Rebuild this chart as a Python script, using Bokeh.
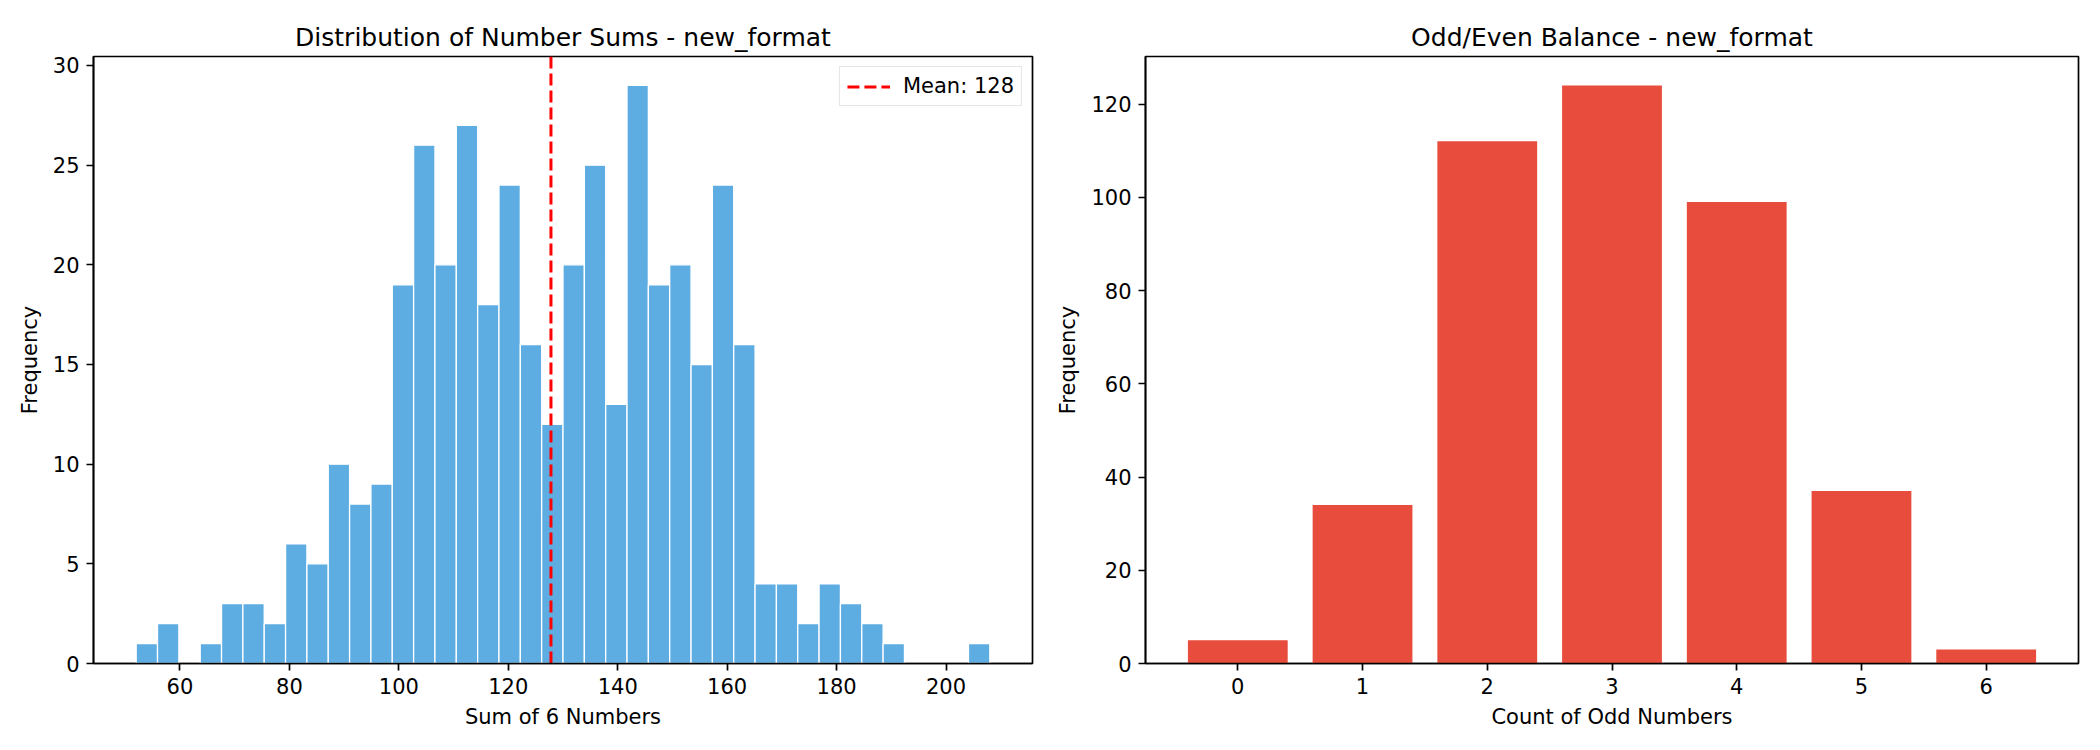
import numpy as np
from bokeh.plotting import figure
from bokeh.layouts import row
from bokeh.models import Range1d, FixedTicker, Legend, LegendItem, ColumnDataSource
from bokeh.embed import file_html
from bokeh.resources import INLINE

# ---------------- data ----------------
sum_bin_start = 52
sum_bin_end = 208
sum_counts = [1, 2, 0, 1, 3, 3, 2, 6, 5, 10, 8, 9, 19, 26, 20, 27, 18, 24, 16,
              12, 20, 25, 13, 29, 19, 20, 15, 24, 16, 4, 4, 2, 4, 3, 2, 1, 0, 0, 0, 1]
mean_sum = 127.8
mean_label = "Mean: 128"
sum_ticks = [60, 80, 100, 120, 140, 160, 180, 200]
freq_ticks_left = [0, 5, 10, 15, 20, 25, 30]

odd_categories = [0, 1, 2, 3, 4, 5, 6]
odd_counts = [5, 34, 112, 124, 99, 37, 3]
freq_ticks_right = [0, 20, 40, 60, 80, 100, 120]

FONT = "DejaVu Sans"
BLUE = "#5DADE2"
RED = "#E74C3C"


def style(p, xlabel, ylabel):
    p.title.text_font = FONT
    p.title.text_font_size = "25px"
    p.title.text_font_style = "normal"
    p.title.align = "center"
    p.title.text_color = "black"
    p.title.standoff = 10
    p.outline_line_color = "black"
    p.outline_line_width = 1.7
    p.xgrid.visible = False
    p.ygrid.visible = False
    p.background_fill_color = "white"
    p.border_fill_color = "white"
    for ax in (p.xaxis[0], p.yaxis[0]):
        ax.axis_line_color = "black"
        ax.axis_line_width = 1.7
        ax.major_tick_line_color = "black"
        ax.major_tick_line_width = 1.7
        ax.major_tick_out = 7
        ax.major_tick_in = 0
        ax.minor_tick_line_color = None
        ax.major_label_text_font = FONT
        ax.major_label_text_font_size = "21px"
        ax.major_label_text_color = "black"
        ax.major_label_standoff = 7
        ax.axis_label_text_font = FONT
        ax.axis_label_text_font_size = "21px"
        ax.axis_label_text_font_style = "normal"
        ax.axis_label_text_color = "black"
    p.xaxis.axis_label = xlabel
    p.yaxis.axis_label = ylabel
    p.xaxis.axis_label_standoff = 8
    p.yaxis.axis_label_standoff = 8


# ---------------- left: histogram ----------------
n_bins = len(sum_counts)
edges = np.linspace(sum_bin_start, sum_bin_end, n_bins + 1)
span_x = sum_bin_end - sum_bin_start
x_lo = sum_bin_start - 0.05 * span_x
x_hi = sum_bin_end + 0.05 * span_x
y_hi1 = max(sum_counts) * 1.05

p1 = figure(width=1053, height=745, output_backend="svg", toolbar_location=None,
            title="Distribution of Number Sums - new_format",
            x_range=Range1d(x_lo, x_hi), y_range=Range1d(0, y_hi1),
            min_border_left=93, min_border_right=21, min_border_top=56, min_border_bottom=82)
src1 = ColumnDataSource(dict(left=edges[:-1], right=edges[1:], top=sum_counts,
                             bottom=[0] * n_bins))
p1.quad(left="left", right="right", top="top", bottom="bottom", source=src1,
        fill_color=BLUE, line_color="white", line_width=1.3)
mean_line = p1.line(x=[mean_sum, mean_sum], y=[0, y_hi1], line_color="red",
                    line_width=3, line_dash="12 5")
style(p1, "Sum of 6 Numbers", "Frequency")
p1.xaxis.ticker = FixedTicker(ticks=sum_ticks)
p1.yaxis.ticker = FixedTicker(ticks=freq_ticks_left)
legend = Legend(items=[LegendItem(label=mean_label, renderers=[mean_line])],
                location="top_right")
legend.label_text_font = FONT
legend.label_text_font_size = "21px"
legend.label_text_color = "black"
legend.label_standoff = 13
legend.glyph_width = 43
legend.glyph_height = 21
legend.label_height = 21
legend.padding = 7
legend.margin = 10
legend.border_line_color = "#cccccc"
legend.border_line_width = 1.5
legend.background_fill_alpha = 0.8
p1.add_layout(legend)

# ---------------- right: odd/even bars ----------------
y_hi2 = max(odd_counts) * 1.05
p2 = figure(width=1040, height=745, output_backend="svg", toolbar_location=None,
            title="Odd/Even Balance - new_format",
            x_range=Range1d(-0.74, 6.74), y_range=Range1d(0, y_hi2),
            min_border_left=85, min_border_right=15, min_border_top=56, min_border_bottom=82)
p2.vbar(x=odd_categories, top=odd_counts, width=0.8, bottom=0,
        fill_color=RED, line_color=None)
style(p2, "Count of Odd Numbers", "Frequency")
p2.xaxis.ticker = FixedTicker(ticks=odd_categories)
p2.yaxis.ticker = FixedTicker(ticks=freq_ticks_right)

layout = row(p1, p2)
open("out.html", "w").write(file_html(layout, INLINE))
